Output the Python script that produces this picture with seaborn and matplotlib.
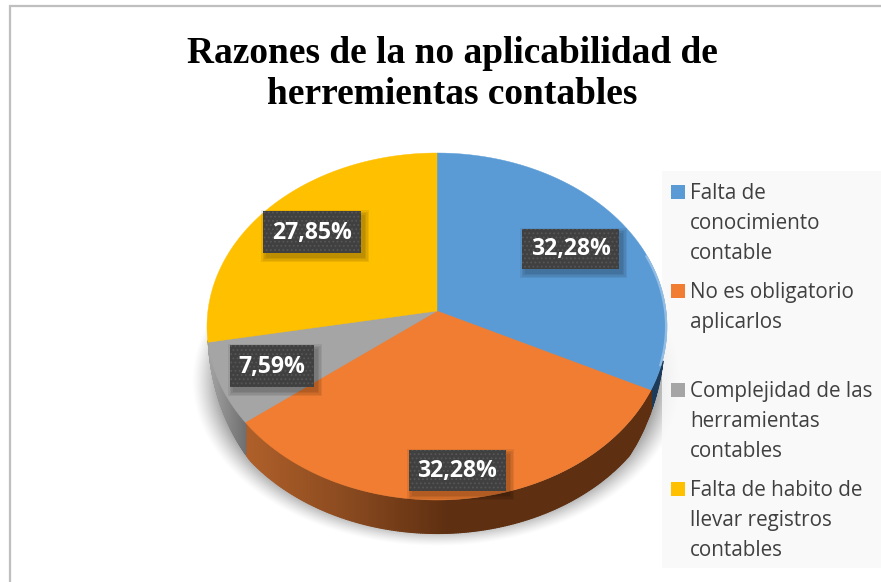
import numpy as np
import seaborn as sns
import matplotlib
matplotlib.use("Agg")
import matplotlib.pyplot as plt
from matplotlib.colors import LinearSegmentedColormap
from matplotlib.patches import Polygon, Rectangle

# data
categories = ["Falta de\nconocimiento\ncontable", "No es obligatorio\naplicarlos",
              "Complejidad de las\nherramientas\ncontables",
              "Falta de habito de\nllevar registros\ncontables"]
values = [32.28, 32.28, 7.59, 27.85]
colors = ["#5B9BD5", "#F07D31", "#A5A5A5", "#FFC000"]
title = "Razones de la no aplicabilidad de\nherremientas contables"

# side wall colours, left to right
wall_colors = [["#1d3b58", "#1d3b58"],
               ["#b0602a", "#8a4a1f", "#5e2f11", "#5e2f11", "#5e2f11"],
               ["#a3a3a3", "#6f6f6f"],
               ["#a07800", "#a07800"]]

W, H = 881, 582
cx, cy, rx, ry = 437, 326.5, 230, 173.5   # top ellipse in pixels
apex = 15.5 / ry    # perspective shifts the pie's centre up
depth = 33 / ry

sns.set_theme(style="white")
palette = sns.color_palette(colors)
plt.rcParams["hatch.linewidth"] = 0.8

fig = plt.figure(figsize=(W / 100, H / 100), dpi=100)
fig.patch.set_facecolor("white")


def px_axes(z):
    a = fig.add_axes([0, 0, 1, 1], zorder=z)
    a.set_xlim(0, W)
    a.set_ylim(H, 0)
    a.axis("off")
    return a


def rim_angle(deg):
    # pie angle (deg, ccw from +x) -> where the ray from the apex meets the unit circle
    t = np.radians(deg)
    dx, dy = np.cos(t), np.sin(t)
    b = apex * dy
    s = -b + np.sqrt(b * b - (apex * apex - 1))
    return np.arctan2(apex + s * dy, s * dx)


def wall_depth(ex, ey):
    # the wall thins out towards the sides of the pie
    left = np.clip((-ey - 0.08) / 0.5, 0, 1) ** 0.7
    right = np.clip((-ey - 0.2) / 0.35, 0, 1) ** 0.7
    return depth * np.where(ex < 0, left, right)


# background: frame, soft shadow, legend panel
bg = px_axes(0)
bg.plot([10, 10, W], [H, 6, 6], color="#bfbfbf", lw=1.6, solid_joinstyle="miter")
xx, yy = np.meshgrid(np.arange(W), np.arange(H))
r = np.sqrt(((xx - 437) / 246) ** 2 + ((yy - 380) / 166) ** 2)
shade = np.zeros((H, W, 4))
shade[..., 3] = 0.36 * np.clip((1 - r) / 0.11, 0, 1) ** 1.3
bg.imshow(shade, extent=(0, W, H, 0), aspect="auto", zorder=1)
bg.add_patch(Rectangle((662, 171), W - 662, 397, fc="#f9f9f9", ec="none", alpha=0.85, zorder=2))
bg.set_xlim(0, W)
bg.set_ylim(H, 0)

# the pie gives the slice angles; each slice is then redrawn in perspective
ax = fig.add_axes([0, 0, 1, 1], zorder=1)
ax.patch.set_alpha(0)
wedges, _ = ax.pie(values, colors=palette, startangle=90, counterclock=False,
                   center=(0, apex), wedgeprops={"linewidth": 0})
ax.set_aspect("auto")

for i, w in enumerate(wedges):
    w.set_visible(False)
    a1 = rim_angle(w.theta2)
    a2 = rim_angle(w.theta1)
    if a2 > a1:
        a2 -= 2 * np.pi
    phi = np.linspace(a1, a2, 240)
    ex, ey = np.cos(phi), np.sin(phi)
    drop = wall_depth(ex, ey)

    # side wall as thin strips, colour follows x
    cmap = LinearSegmentedColormap.from_list("w%d" % i, wall_colors[i])
    x0, x1 = ex.min(), ex.max()
    for j in range(len(phi) - 1):
        if drop[j] <= 0 and drop[j + 1] <= 0:
            continue
        c = cmap((ex[j] - x0) / (x1 - x0))
        ax.fill_between(ex[j:j + 2], ey[j:j + 2], ey[j:j + 2] - drop[j:j + 2],
                        color=c, lw=0.8, zorder=2)

    ax.add_patch(Polygon(np.vstack([[0, apex], np.column_stack([ex, ey])]), closed=True,
                         fc=w.get_facecolor(), ec=w.get_facecolor(), lw=0.3, zorder=5))

# light rim on the blue slice
phi = np.radians(np.linspace(-13, 24, 60))
ax.plot(np.cos(phi) * 0.996, np.sin(phi) * 0.996, color="#9dc3e6", lw=1.6, alpha=0.85, zorder=6)

ax.set_xlim((0 - cx) / rx, (W - cx) / rx)
ax.set_ylim((cy - H) / ry, cy / ry)
ax.axis("off")

# labels and legend on top
fg = px_axes(2)
fg.patch.set_alpha(0)
fg.text(452.5, 74, title, ha="center", va="center", family="Liberation Serif",
        weight="bold", fontsize=26.9, color="black", linespacing=1.2)

boxes = [(522, 229, 97, 40), (409, 450, 97, 41), (230, 345, 84, 42), (263, 211, 98, 42)]
for v, (bx, by, bw, bh) in zip(values, boxes):
    for grow in (5, 3.5, 2, 0.5):
        fg.add_patch(Rectangle((bx + 3 - grow, by + 4 - grow), bw + 2 * grow, bh + 2 * grow,
                               fc="black", ec="none", alpha=0.07))
    fg.add_patch(Rectangle((bx, by), bw, bh, fc="#404040", ec="#565656", hatch="....", lw=0))
    fg.text(bx + bw / 2, by + bh / 2 + 0.5, ("%.2f%%" % v).replace(".", ","), ha="center",
            va="center", color="white", weight="bold", family="Open Sans", fontsize=16.6)

legend_y = [192, 291, 390, 489]
for name, c, y in zip(categories, palette, legend_y):
    fg.add_patch(Rectangle((671, y - 7), 14, 14, fc=c, ec="none"))
    fg.text(690, y - 9, name, ha="left", va="top", family="Open Sans", fontsize=14.9,
            color="#404040", linespacing=1.55)

fig.savefig("out.png", dpi=100)
